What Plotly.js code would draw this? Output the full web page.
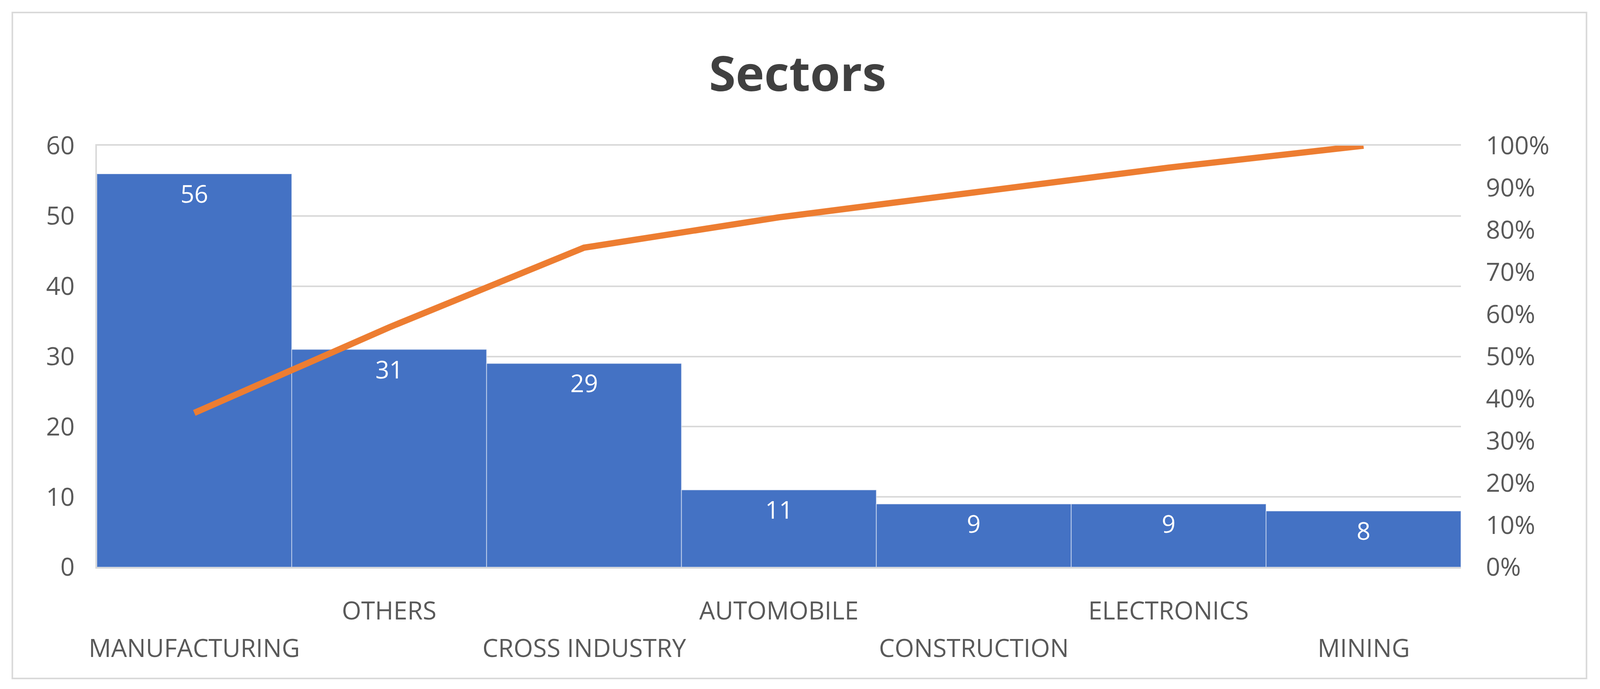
<!DOCTYPE html>
<html>
<head>
<meta charset="utf-8">
<script src="https://cdn.plot.ly/plotly-3.0.1.min.js"></script>
<style>
html,body{margin:0;padding:0;background:#fff;overflow:hidden;}
#chart{position:absolute;left:0;top:0;}
</style>
</head>
<body>
<div id="chart"></div>
<script>
// ---- data ----
var categories = ["MANUFACTURING", "OTHERS", "CROSS INDUSTRY", "AUTOMOBILE", "CONSTRUCTION", "ELECTRONICS", "MINING"];
var counts = [56, 31, 29, 11, 9, 9, 8];
var cumulativePct = [36.6, 56.9, 75.8, 83.0, 88.9, 94.8, 100];
var leftTicks = [0, 10, 20, 30, 40, 50, 60];
var rightTicks = [0, 10, 20, 30, 40, 50, 60, 70, 80, 90, 100];
var titleText = "Sectors";

// ---- layout (designed on a 4146 x 1764 canvas, fitted to the viewport) ----
var REF_W = 4146, REF_H = 1764;
var W = window.innerWidth || REF_W;
var H = window.innerHeight || REF_H;
var sx = W / REF_W, sy = H / REF_H;
var M = {l: Math.round(251 * sx), r: Math.round(360 * sx), t: Math.round(373 * sy), b: Math.round(312 * sy)};
var plotW = W - M.l - M.r, plotH = H - M.t - M.b;
var FONT = "Open Sans, Noto Sans, sans-serif";
var TICK_COLOR = "#595959";
var GRID = "#D9D9D9";
var FS = 64;

function px2paperX(px){ return (px * sx - M.l) / plotW; }
function px2paperY(py){ return (H - M.b - py * sy) / plotH; }

var bars = {
  type: "bar",
  x: categories,
  y: counts,
  marker: {color: "#4472C4", line: {color: "rgba(255,255,255,0.55)", width: 2}},
  hoverinfo: "x+y",
  showlegend: false
};

var line = {
  type: "scatter",
  mode: "lines",
  x: categories,
  y: cumulativePct,
  yaxis: "y2",
  line: {color: "#ED7D31", width: 16},
  showlegend: false
};

var annotations = [];
// value labels inside bars, near the top
categories.forEach(function(c, i){
  annotations.push({
    x: c, y: counts[i], xref: "x", yref: "y",
    text: String(counts[i]),
    showarrow: false, yanchor: "middle", yshift: -50 * sy,
    font: {family: FONT, size: 62, color: "#FFFFFF"}
  });
});
// staggered category labels (two rows)
categories.forEach(function(c, i){
  var rowY = (i % 2 === 0) ? 1657 : 1561;
  annotations.push({
    x: c, y: px2paperY(rowY), xref: "x", yref: "paper",
    text: c, showarrow: false, yanchor: "middle", xanchor: "center",
    font: {family: FONT, size: FS, color: TICK_COLOR}
  });
});

var layout = {
  width: W, height: H,
  margin: M,
  paper_bgcolor: "#FFFFFF",
  plot_bgcolor: "#FFFFFF",
  bargap: 0,
  title: {
    text: "<b>" + titleText + "</b>",
    x: 0.4985, xanchor: "center",
    y: 1 - 190 / REF_H, yref: "container", yanchor: "middle",
    font: {family: FONT, size: 124, color: "#404040"}
  },
  xaxis: {
    type: "category",
    range: [-0.5, categories.length - 0.5],
    showticklabels: false,
    showgrid: false,
    showline: true, linecolor: GRID, linewidth: 4, mirror: true,
    ticks: "",
    fixedrange: true
  },
  yaxis: {
    range: [0, 60],
    tickvals: leftTicks,
    ticktext: leftTicks.map(String),
    showgrid: true, gridcolor: GRID, gridwidth: 4,
    zeroline: false,
    showline: true, linecolor: GRID, linewidth: 4,
    ticks: "",
    ticklabelstandoff: Math.round(40 * sx),
    tickfont: {family: FONT, size: FS, color: TICK_COLOR},
    fixedrange: true
  },
  yaxis2: {
    overlaying: "y", side: "right",
    range: [0, 100],
    tickvals: rightTicks,
    ticktext: rightTicks.map(function(v){ return v + "%"; }),
    showgrid: false, zeroline: false,
    showline: false,
    ticks: "",
    ticklabelstandoff: Math.round(64 * sx),
    tickfont: {family: FONT, size: FS, color: TICK_COLOR},
    fixedrange: true
  },
  annotations: annotations,
  shapes: [{
    type: "rect", xref: "paper", yref: "paper",
    x0: px2paperX(32), x1: px2paperX(4111),
    y0: px2paperY(1737), y1: px2paperY(32),
    line: {color: "#D9D9D9", width: 4},
    fillcolor: "rgba(0,0,0,0)",
    layer: "below"
  }]
};

Plotly.newPlot("chart", [bars, line], layout, {staticPlot: true, displayModeBar: false});
</script>
</body>
</html>
